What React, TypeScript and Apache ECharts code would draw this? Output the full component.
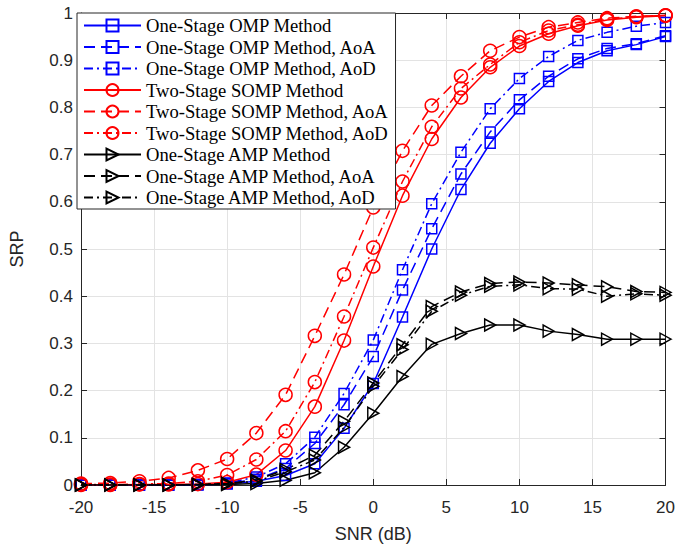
import React, { useEffect, useRef } from "react";
import * as echarts from "echarts";

const snr = [-20, -18, -16, -14, -12, -10, -8, -6, -4, -2, 0, 2, 4, 6, 8, 10, 12, 14, 16, 18, 20];

const ompMethod = [0, 0, 0, 0, 0, 0.002, 0.008, 0.02, 0.045, 0.12, 0.215, 0.356, 0.5, 0.626, 0.724, 0.797, 0.855, 0.895, 0.92, 0.933, 0.95];
const ompAoA = [0, 0, 0, 0, 0.001, 0.003, 0.012, 0.035, 0.088, 0.17, 0.272, 0.413, 0.543, 0.659, 0.748, 0.816, 0.866, 0.903, 0.925, 0.935, 0.952];
const ompAoD = [0, 0, 0, 0, 0.001, 0.004, 0.017, 0.045, 0.101, 0.194, 0.307, 0.456, 0.596, 0.705, 0.797, 0.861, 0.908, 0.942, 0.959, 0.972, 0.98];

const sompMethod = [0, 0, 0.001, 0.001, 0.002, 0.006, 0.022, 0.073, 0.166, 0.306, 0.463, 0.613, 0.733, 0.821, 0.885, 0.93, 0.956, 0.973, 0.985, 0.991, 0.994];
const sompAoA = [0.003, 0.004, 0.008, 0.015, 0.031, 0.055, 0.11, 0.191, 0.316, 0.446, 0.588, 0.708, 0.804, 0.866, 0.92, 0.949, 0.97, 0.98, 0.989, 0.993, 0.995];
const sompAoD = [0.001, 0.001, 0.002, 0.003, 0.008, 0.021, 0.054, 0.114, 0.218, 0.357, 0.503, 0.643, 0.759, 0.84, 0.891, 0.938, 0.963, 0.975, 0.987, 0.992, 0.995];

const ampMethod = [0, 0, 0, 0, 0, 0.001, 0.003, 0.01, 0.026, 0.08, 0.152, 0.23, 0.298, 0.321, 0.339, 0.339, 0.326, 0.319, 0.309, 0.309, 0.309];
const ampAoA = [0, 0, 0, 0, 0.001, 0.003, 0.01, 0.033, 0.063, 0.135, 0.216, 0.297, 0.378, 0.409, 0.427, 0.43, 0.428, 0.424, 0.42, 0.41, 0.408];
const ampAoD = [0, 0, 0, 0, 0.001, 0.003, 0.008, 0.028, 0.053, 0.122, 0.209, 0.287, 0.368, 0.402, 0.421, 0.424, 0.416, 0.415, 0.4, 0.405, 0.402];

const xTicks = { min: -20, max: 20, interval: 5 };
const yTicks = { min: 0, max: 1, interval: 0.1 };

const names = [
  "One-Stage OMP Method",
  "One-Stage OMP Method, AoA",
  "One-Stage OMP Method, AoD",
  "Two-Stage SOMP Method",
  "Two-Stage SOMP Method, AoA",
  "Two-Stage SOMP Method, AoD",
  "One-Stage AMP Method",
  "One-Stage AMP Method, AoA",
  "One-Stage AMP Method, AoD",
];

const DASH = [11, 6];
const DASHDOT = [9, 4, 2, 4];

function mk(name: string, ys: number[], color: string, dash: any, symbol: string, size: any, rotate = 0) {
  return {
    name,
    type: "line",
    data: snr.map((x, i) => [x, ys[i]]),
    symbol,
    symbolSize: size,
    symbolRotate: rotate,
    showSymbol: true,
    lineStyle: { color, width: 1.5, type: dash },
    itemStyle: { color: "rgba(255,255,255,0)", borderColor: color, borderWidth: 1.5 },
    emphasis: { disabled: true },
    z: 3,
  };
}

export default function App() {
  const ref = useRef<HTMLDivElement>(null);
  useEffect(() => {
    if (!ref.current) return;
    const chart = echarts.init(ref.current, null, { renderer: "svg" });
    const axisColor = "#262626";
    const labelFont = { color: axisColor, fontSize: 17, fontFamily: "Liberation Sans, Arial, sans-serif" };
    chart.setOption({
      animation: false,
      backgroundColor: "#ffffff",
      grid: { left: 74, top: 13, width: 595, height: 474, containLabel: false },
      legend: {
        orient: "vertical",
        left: 77,
        top: 13,
        data: names,
        itemWidth: 57,
        itemHeight: 15,
        itemGap: 2.5,
        padding: [3, 6, 2, 6],
        backgroundColor: "#ffffff",
        borderColor: "#262626",
        borderWidth: 1,
        borderRadius: 0,
        textStyle: { fontFamily: "Liberation Serif, Times New Roman, serif", fontSize: 18.6, color: "#000", lineHeight: 18 },
        selectedMode: false,
      },
      xAxis: [
        {
          type: "value",
          ...xTicks,
          name: "SNR (dB)",
          nameLocation: "middle",
          nameGap: 40,
          nameTextStyle: { ...labelFont, fontSize: 18 },
          axisLine: { show: true, onZero: false, lineStyle: { color: axisColor, width: 1 } },
          axisTick: { show: true, inside: true, length: 6, lineStyle: { color: axisColor } },
          axisLabel: { ...labelFont, margin: 14 },
          splitLine: { show: true, lineStyle: { color: "#e3e3e3", width: 1 } },
        },
        {
          type: "value",
          ...xTicks,
          position: "top",
          axisLine: { show: true, onZero: false, lineStyle: { color: axisColor, width: 1 } },
          axisTick: { show: true, inside: true, length: 6, lineStyle: { color: axisColor } },
          axisLabel: { show: false },
          splitLine: { show: false },
        },
      ],
      yAxis: [
        {
          type: "value",
          ...yTicks,
          name: "SRP",
          nameLocation: "middle",
          nameGap: 55,
          nameTextStyle: { ...labelFont, fontSize: 18 },
          axisLine: { show: true, onZero: false, lineStyle: { color: axisColor, width: 1 } },
          axisTick: { show: true, inside: true, length: 6, lineStyle: { color: axisColor } },
          axisLabel: { ...labelFont, margin: 8 },
          splitLine: { show: true, lineStyle: { color: "#e3e3e3", width: 1 } },
        },
        {
          type: "value",
          ...yTicks,
          position: "right",
          axisLine: { show: true, onZero: false, lineStyle: { color: axisColor, width: 1 } },
          axisTick: { show: true, inside: true, length: 6, lineStyle: { color: axisColor } },
          axisLabel: { show: false },
          splitLine: { show: false },
        },
      ],
      series: [
        mk(names[0], ompMethod, "#0000ff", "solid", "rect", 10),
        mk(names[1], ompAoA, "#0000ff", DASH, "rect", 10),
        mk(names[2], ompAoD, "#0000ff", DASHDOT, "rect", 10),
        mk(names[3], sompMethod, "#ff0000", "solid", "circle", 13),
        mk(names[4], sompAoA, "#ff0000", DASH, "circle", 13),
        mk(names[5], sompAoD, "#ff0000", DASHDOT, "circle", 13),
        mk(names[6], ampMethod, "#000000", "solid", "triangle", [12, 11], -90),
        mk(names[7], ampAoA, "#000000", DASH, "triangle", [12, 11], -90),
        mk(names[8], ampAoD, "#000000", DASHDOT, "triangle", [12, 11], -90),
      ],
    });
    return () => chart.dispose();
  }, []);
  return <div ref={ref} style={{ position: "fixed", left: 0, top: 0, width: 678, height: 548 }} />;
}
